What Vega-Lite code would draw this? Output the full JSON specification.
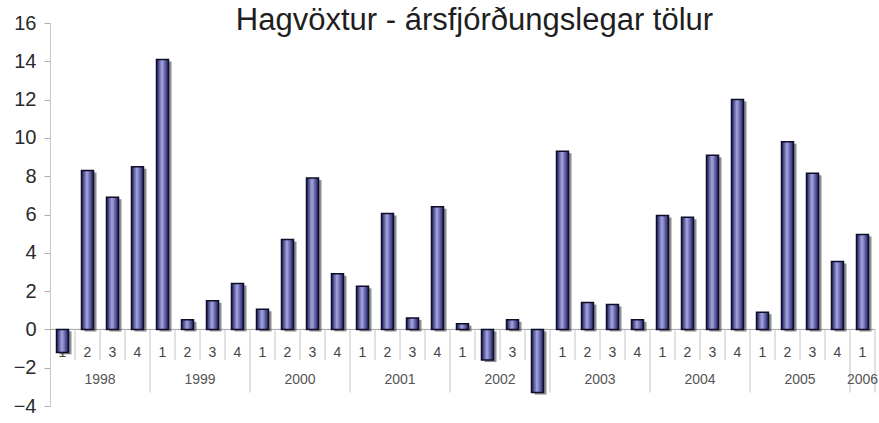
{
  "$schema": "https://vega.github.io/schema/vega-lite/v6.json",
  "width": 825,
  "height": 383,
  "autosize": {"type": "none"},
  "padding": {"left": 50, "top": 23, "right": 4, "bottom": 17},
  "background": "white",
  "title": {
    "text": "Hagvöxtur - ársfjórðungslegar tölur",
    "font": "Liberation Sans",
    "fontSize": 31,
    "fontWeight": "normal",
    "color": "#1e1e1e",
    "anchor": "middle",
    "frame": "group",
    "baseline": "alphabetic",
    "offset": -11,
    "dx": 12,
    "dy": 37
  },
  "config": {
    "view": {"stroke": null},
    "font": "Liberation Sans",
    "axisY": {
      "title": null,
      "grid": false,
      "labelOverlap": false,
      "domainColor": "#c8c8c8",
      "tickColor": "#b0b0b0",
      "tickSize": 6,
      "labelFontSize": 20,
      "labelColor": "#2a2a2a",
      "labelPadding": 8,
      "labelFont": "Liberation Sans"
    }
  },
  "data": {
    "values": [
      {"i": 0, "year": "1998", "q": 1, "v": -1.2},
      {"i": 1, "year": "1998", "q": 2, "v": 8.3},
      {"i": 2, "year": "1998", "q": 3, "v": 6.9},
      {"i": 3, "year": "1998", "q": 4, "v": 8.5},
      {"i": 4, "year": "1999", "q": 1, "v": 14.1},
      {"i": 5, "year": "1999", "q": 2, "v": 0.5},
      {"i": 6, "year": "1999", "q": 3, "v": 1.5},
      {"i": 7, "year": "1999", "q": 4, "v": 2.4},
      {"i": 8, "year": "2000", "q": 1, "v": 1.05},
      {"i": 9, "year": "2000", "q": 2, "v": 4.7},
      {"i": 10, "year": "2000", "q": 3, "v": 7.9},
      {"i": 11, "year": "2000", "q": 4, "v": 2.9},
      {"i": 12, "year": "2001", "q": 1, "v": 2.25},
      {"i": 13, "year": "2001", "q": 2, "v": 6.05},
      {"i": 14, "year": "2001", "q": 3, "v": 0.6},
      {"i": 15, "year": "2001", "q": 4, "v": 6.4},
      {"i": 16, "year": "2002", "q": 1, "v": 0.3},
      {"i": 17, "year": "2002", "q": 2, "v": -1.6},
      {"i": 18, "year": "2002", "q": 3, "v": 0.5},
      {"i": 19, "year": "2002", "q": 4, "v": -3.3},
      {"i": 20, "year": "2003", "q": 1, "v": 9.3},
      {"i": 21, "year": "2003", "q": 2, "v": 1.4},
      {"i": 22, "year": "2003", "q": 3, "v": 1.3},
      {"i": 23, "year": "2003", "q": 4, "v": 0.5},
      {"i": 24, "year": "2004", "q": 1, "v": 5.95},
      {"i": 25, "year": "2004", "q": 2, "v": 5.85},
      {"i": 26, "year": "2004", "q": 3, "v": 9.1},
      {"i": 27, "year": "2004", "q": 4, "v": 12.0},
      {"i": 28, "year": "2005", "q": 1, "v": 0.9},
      {"i": 29, "year": "2005", "q": 2, "v": 9.8},
      {"i": 30, "year": "2005", "q": 3, "v": 8.15},
      {"i": 31, "year": "2005", "q": 4, "v": 3.55},
      {"i": 32, "year": "2006", "q": 1, "v": 4.95}
    ]
  },
  "layer": [
    {
      "data": {"values": [{"z": 0}]},
      "mark": {"type": "rule", "color": "#a0a0a0", "strokeWidth": 1},
      "encoding": {
        "y": {
          "field": "z",
          "type": "quantitative",
          "scale": {"domain": [-4, 16], "nice": false, "zero": false},
          "axis": {"values": [-4, -2, 0, 2, 4, 6, 8, 10, 12, 14, 16]}
        }
      }
    },
    {
      "transform": [{"filter": "datum.q != 1"}],
      "mark": {"type": "rule", "color": "#c4c4c4", "strokeWidth": 1},
      "encoding": {
        "x": {"field": "i", "type": "ordinal", "bandPosition": 0, "scale": {"type": "band", "domain": [0,1,2,3,4,5,6,7,8,9,10,11,12,13,14,15,16,17,18,19,20,21,22,23,24,25,26,27,28,29,30,31,32], "paddingInner": 0, "paddingOuter": 0}, "axis": null},
        "y": {"datum": 0, "type": "quantitative", "axis": {"values": [-4, -2, 0, 2, 4, 6, 8, 10, 12, 14, 16]}},
        "y2": {"datum": -1.6}
      }
    },
    {
      "transform": [{"filter": "datum.q == 1 && datum.i > 0"}],
      "mark": {"type": "rule", "color": "#c4c4c4", "strokeWidth": 1},
      "encoding": {
        "x": {"field": "i", "type": "ordinal", "bandPosition": 0, "axis": null},
        "y": {"datum": 0, "type": "quantitative", "axis": {"values": [-4, -2, 0, 2, 4, 6, 8, 10, 12, 14, 16]}},
        "y2": {"datum": -3.3}
      }
    },
    {
      "transform": [{"filter": "datum.i == 32"}],
      "mark": {"type": "rule", "color": "#c4c4c4", "strokeWidth": 1},
      "encoding": {
        "x": {"field": "i", "type": "ordinal", "bandPosition": 1, "axis": null},
        "y": {"datum": 0, "type": "quantitative", "axis": {"values": [-4, -2, 0, 2, 4, 6, 8, 10, 12, 14, 16]}},
        "y2": {"datum": -3.3}
      }
    },
    {
      "mark": {"type": "text", "fontSize": 14, "color": "#444444", "baseline": "middle", "align": "center"},
      "encoding": {
        "x": {"field": "i", "type": "ordinal", "axis": null},
        "y": {"datum": -1.25, "type": "quantitative", "axis": {"values": [-4, -2, 0, 2, 4, 6, 8, 10, 12, 14, 16]}},
        "text": {"field": "q", "type": "nominal"}
      }
    },
    {
      "transform": [{"filter": "datum.q == 2"}],
      "mark": {"type": "text", "fontSize": 14, "color": "#555555", "baseline": "middle", "align": "center"},
      "encoding": {
        "x": {"field": "i", "type": "ordinal", "bandPosition": 1, "axis": null},
        "y": {"datum": -2.65, "type": "quantitative", "axis": {"values": [-4, -2, 0, 2, 4, 6, 8, 10, 12, 14, 16]}},
        "text": {"field": "year", "type": "nominal"}
      }
    },
    {
      "transform": [{"filter": "datum.year == '2006'"}],
      "mark": {"type": "text", "fontSize": 14, "color": "#555555", "baseline": "middle", "align": "center"},
      "encoding": {
        "x": {"field": "i", "type": "ordinal", "axis": null},
        "y": {"datum": -2.65, "type": "quantitative", "axis": {"values": [-4, -2, 0, 2, 4, 6, 8, 10, 12, 14, 16]}},
        "text": {"field": "year", "type": "nominal"}
      }
    },
    {
      "mark": {"type": "bar", "width": {"band": 0.48}, "xOffset": 3, "yOffset": 2, "fill": "#444444", "opacity": 0.6},
      "encoding": {
        "x": {"field": "i", "type": "ordinal", "axis": null},
        "y": {"field": "v", "type": "quantitative", "axis": {"values": [-4, -2, 0, 2, 4, 6, 8, 10, 12, 14, 16]}}
      }
    },
    {
      "mark": {
        "type": "bar",
        "width": {"band": 0.48},
        "fill": {
          "gradient": "linear",
          "x1": 0, "y1": 0, "x2": 1, "y2": 0,
          "stops": [
            {"offset": 0, "color": "#161656"},
            {"offset": 0.45, "color": "#a6a6e2"},
            {"offset": 1, "color": "#1c1c60"}
          ]
        },
        "stroke": "#0e0e2a",
        "strokeWidth": 1.5
      },
      "encoding": {
        "x": {"field": "i", "type": "ordinal", "axis": null},
        "y": {"field": "v", "type": "quantitative", "axis": {"values": [-4, -2, 0, 2, 4, 6, 8, 10, 12, 14, 16]}}
      }
    }
  ]
}
